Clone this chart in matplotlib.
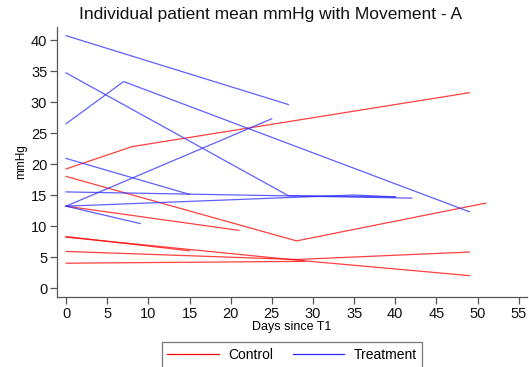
import matplotlib
matplotlib.use("Agg")
import matplotlib.pyplot as plt
from matplotlib.lines import Line2D

plt.rcParams['font.family'] = ['Liberation Sans', 'DejaVu Sans']

# -------------------------
# Data: one list of (day, mmHg) per patient
# -------------------------
control = [
    ([0, 8, 49], [19.2, 22.8, 31.5]),
    ([0, 28, 51], [18.0, 7.6, 13.7]),
    ([0, 21], [13.2, 9.3]),
    ([0, 15], [8.3, 6.0]),
    ([0, 28, 49], [8.2, 4.5, 2.0]),
    ([0, 28, 49], [5.9, 4.6, 5.8]),
    ([0, 29], [4.0, 4.3]),
]

treatment = [
    ([0, 27], [40.7, 29.6]),
    ([0, 7, 49], [26.5, 33.3, 12.3]),
    ([0, 27, 40], [34.7, 14.9, 14.7]),
    ([0, 15], [20.9, 15.1]),
    ([0, 42], [15.5, 14.5]),
    ([0, 25], [13.2, 27.3]),
    ([0, 9], [13.2, 10.4]),
    ([0, 35, 40], [13.2, 15.0, 14.7]),
]

x_ticks = list(range(0, 56, 5))
y_ticks = list(range(0, 41, 5))

red = '#ff0000'
blue = '#2a2aff'
grey = '#555555'

fig = plt.figure(figsize=(5.29, 3.67), dpi=100)
ax = fig.add_axes([57 / 529, 1 - 297 / 367, 470 / 529, 270 / 367])

for days, vals in control:
    ax.plot(days, vals, color=red, lw=0.9, alpha=0.75)
for days, vals in treatment:
    ax.plot(days, vals, color=blue, lw=0.9, alpha=0.75)

ax.set_xlim(-1.1, 56.0)
ax.set_ylim(-1.45, 42.1)
ax.set_xticks(x_ticks)
ax.set_yticks(y_ticks)

for s in ['top', 'right']:
    ax.spines[s].set_visible(False)
for s in ['left', 'bottom']:
    ax.spines[s].set_color(grey)
    ax.spines[s].set_linewidth(0.9)
ax.tick_params(direction='out', length=5, width=0.9, color=grey,
               labelsize=10.5, labelcolor='#111111', pad=2)

ax.set_xlabel("Days since T1", fontsize=9, labelpad=0)
ax.set_ylabel("mmHg", fontsize=8.5, labelpad=3)
fig.text(271 / 529, 1 - 14 / 367, "Individual patient mean mmHg with Movement - A",
         ha='center', va='center', fontsize=12.5, color='#111111')

handles = [Line2D([], [], color=red, lw=0.9),
           Line2D([], [], color=blue, lw=0.9)]
leg = fig.legend(handles, ["Control", "Treatment"], loc='center',
                 bbox_to_anchor=(292 / 529, 1 - 355 / 367), ncol=2,
                 fontsize=10, frameon=True, fancybox=False, handlelength=3.7,
                 columnspacing=1.45, borderpad=0.4, handletextpad=0.65)
leg.get_frame().set_edgecolor(grey)
leg.get_frame().set_linewidth(0.9)

fig.savefig("out.png", dpi=100)
